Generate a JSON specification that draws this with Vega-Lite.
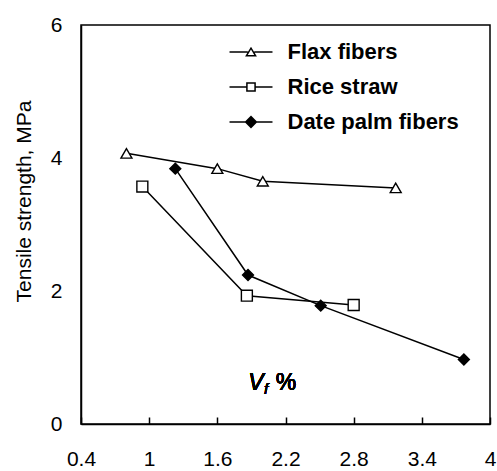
{
  "$schema": "https://vega.github.io/schema/vega-lite/v6.json",
  "width": 409,
  "height": 399,
  "autosize": "none",
  "padding": {"left": 81, "top": 25, "right": 7, "bottom": 47},
  "background": "white",
  "config": {
    "view": {"stroke": "black", "strokeWidth": 1.5},
    "font": "Liberation Sans",
    "axis": {"grid": false, "domainColor": "black", "domainWidth": 1.5, "labelColor": "black", "titleColor": "black", "labelFont": "Liberation Sans", "titleFont": "Liberation Sans"}
  },
  "data": {
    "values": [
      {"series": "Flax fibers", "vf": 0.8, "ts": 4.07},
      {"series": "Flax fibers", "vf": 1.6, "ts": 3.84},
      {"series": "Flax fibers", "vf": 2.0, "ts": 3.65},
      {"series": "Flax fibers", "vf": 3.17, "ts": 3.55},
      {"series": "Rice straw", "vf": 0.94, "ts": 3.57},
      {"series": "Rice straw", "vf": 1.86, "ts": 1.93},
      {"series": "Rice straw", "vf": 2.8, "ts": 1.79},
      {"series": "Date palm fibers", "vf": 1.23, "ts": 3.84},
      {"series": "Date palm fibers", "vf": 1.87, "ts": 2.24},
      {"series": "Date palm fibers", "vf": 2.51, "ts": 1.78},
      {"series": "Date palm fibers", "vf": 3.77, "ts": 0.97}
    ]
  },
  "resolve": {"scale": {"shape": "independent"}},
  "layer": [
    {
      "mark": {"type": "line", "color": "black", "strokeWidth": 1.5},
      "encoding": {
        "x": {
          "field": "vf", "type": "quantitative",
          "scale": {"domain": [0.4, 4], "nice": false, "zero": false},
          "axis": {
            "title": null,
            "values": [0.4, 0.7, 1.0, 1.3, 1.6, 1.9, 2.2, 2.5, 2.8, 3.1, 3.4, 3.7, 4.0],
            "labelExpr": "(round(datum.value*10)-4) % 6 == 0 ? format(datum.value, '~g') : ''",
            "tickSize": -7, "tickColor": "black", "tickWidth": 1.5,
            "labelFontSize": 21, "labelPadding": 31, "labelFlush": false
          }
        },
        "y": {
          "field": "ts", "type": "quantitative",
          "scale": {"domain": [0, 6], "nice": false},
          "axis": {
            "title": "Tensile strength, MPa",
            "values": [0, 2, 4, 6],
            "format": "d",
            "ticks": false,
            "labelFontSize": 21, "labelPadding": 19,
            "titleFontSize": 21, "titleFontWeight": "normal",
            "titleX": -47, "titleY": 176, "titleBaseline": "bottom", "titleAngle": -90
          }
        },
        "detail": {"field": "series"}
      }
    },
    {
      "mark": {"type": "point", "filled": true, "stroke": "black", "strokeWidth": 1.4, "size": 120, "opacity": 1},
      "encoding": {
        "x": {"field": "vf", "type": "quantitative"},
        "y": {"field": "ts", "type": "quantitative"},
        "shape": {
          "field": "series", "type": "nominal",
          "scale": {"domain": ["Flax fibers", "Rice straw", "Date palm fibers"], "range": ["triangle-up", "square", "diamond"]},
          "legend": null
        },
        "fill": {
          "field": "series", "type": "nominal",
          "scale": {"domain": ["Flax fibers", "Rice straw", "Date palm fibers"], "range": ["white", "white", "black"]},
          "legend": null
        }
      }
    },
    {
      "mark": {"type": "point", "filled": true, "color": "black", "opacity": 0, "size": 462},
      "encoding": {
        "x": {"field": "vf", "type": "quantitative"},
        "y": {"field": "ts", "type": "quantitative"},
        "shape": {
          "field": "series", "type": "nominal",
          "scale": {
            "domain": ["Flax fibers", "Rice straw", "Date palm fibers"],
            "range": [
              "M-2,-0.07H-0.3V0.07H-2Z M0.3,-0.07H2V0.07H0.3Z M0,-0.5L0.55,0.42L-0.55,0.42Z M0,-0.23L-0.3,0.28L0.3,0.28Z",
              "M-2,-0.07H-0.45V0.07H-2Z M0.45,-0.07H2V0.07H0.45Z M-0.45,-0.45H0.45V0.45H-0.45Z M-0.31,-0.31V0.31H0.31V-0.31Z",
              "M-2,-0.07H2V0.07H-2Z M0,-0.6L0.6,0L0,0.6L-0.6,0Z"
            ]
          },
          "legend": {
            "title": null, "orient": "none", "legendX": 159, "legendY": 16,
            "symbolSize": 462, "symbolOpacity": 1, "symbolFillColor": "black", "symbolStrokeWidth": 0,
            "labelOffset": 25.5, "rowPadding": 13, "padding": 0,
            "labelFontSize": 22, "labelFontWeight": "bold", "labelColor": "black", "labelFont": "Liberation Sans", "labelLimit": 300
          }
        }
      }
    },
    {
      "mark": {"type": "text", "text": "V", "fontStyle": "italic", "fontSize": 23, "font": "Liberation Sans", "baseline": "middle", "align": "center", "color": "black"},
      "encoding": {"x": {"datum": 1.94}, "y": {"datum": 0.62}}
    },
    {
      "mark": {"type": "text", "text": "f", "fontStyle": "italic", "fontSize": 15, "font": "Liberation Sans", "baseline": "middle", "align": "center", "dx": 10, "dy": 6, "color": "black"},
      "encoding": {"x": {"datum": 1.94}, "y": {"datum": 0.62}}
    },
    {
      "mark": {"type": "text", "text": "%", "fontSize": 23, "font": "Liberation Sans", "baseline": "middle", "align": "center", "dx": 30, "color": "black"},
      "encoding": {"x": {"datum": 1.94}, "y": {"datum": 0.62}}
    }
  ]
}
